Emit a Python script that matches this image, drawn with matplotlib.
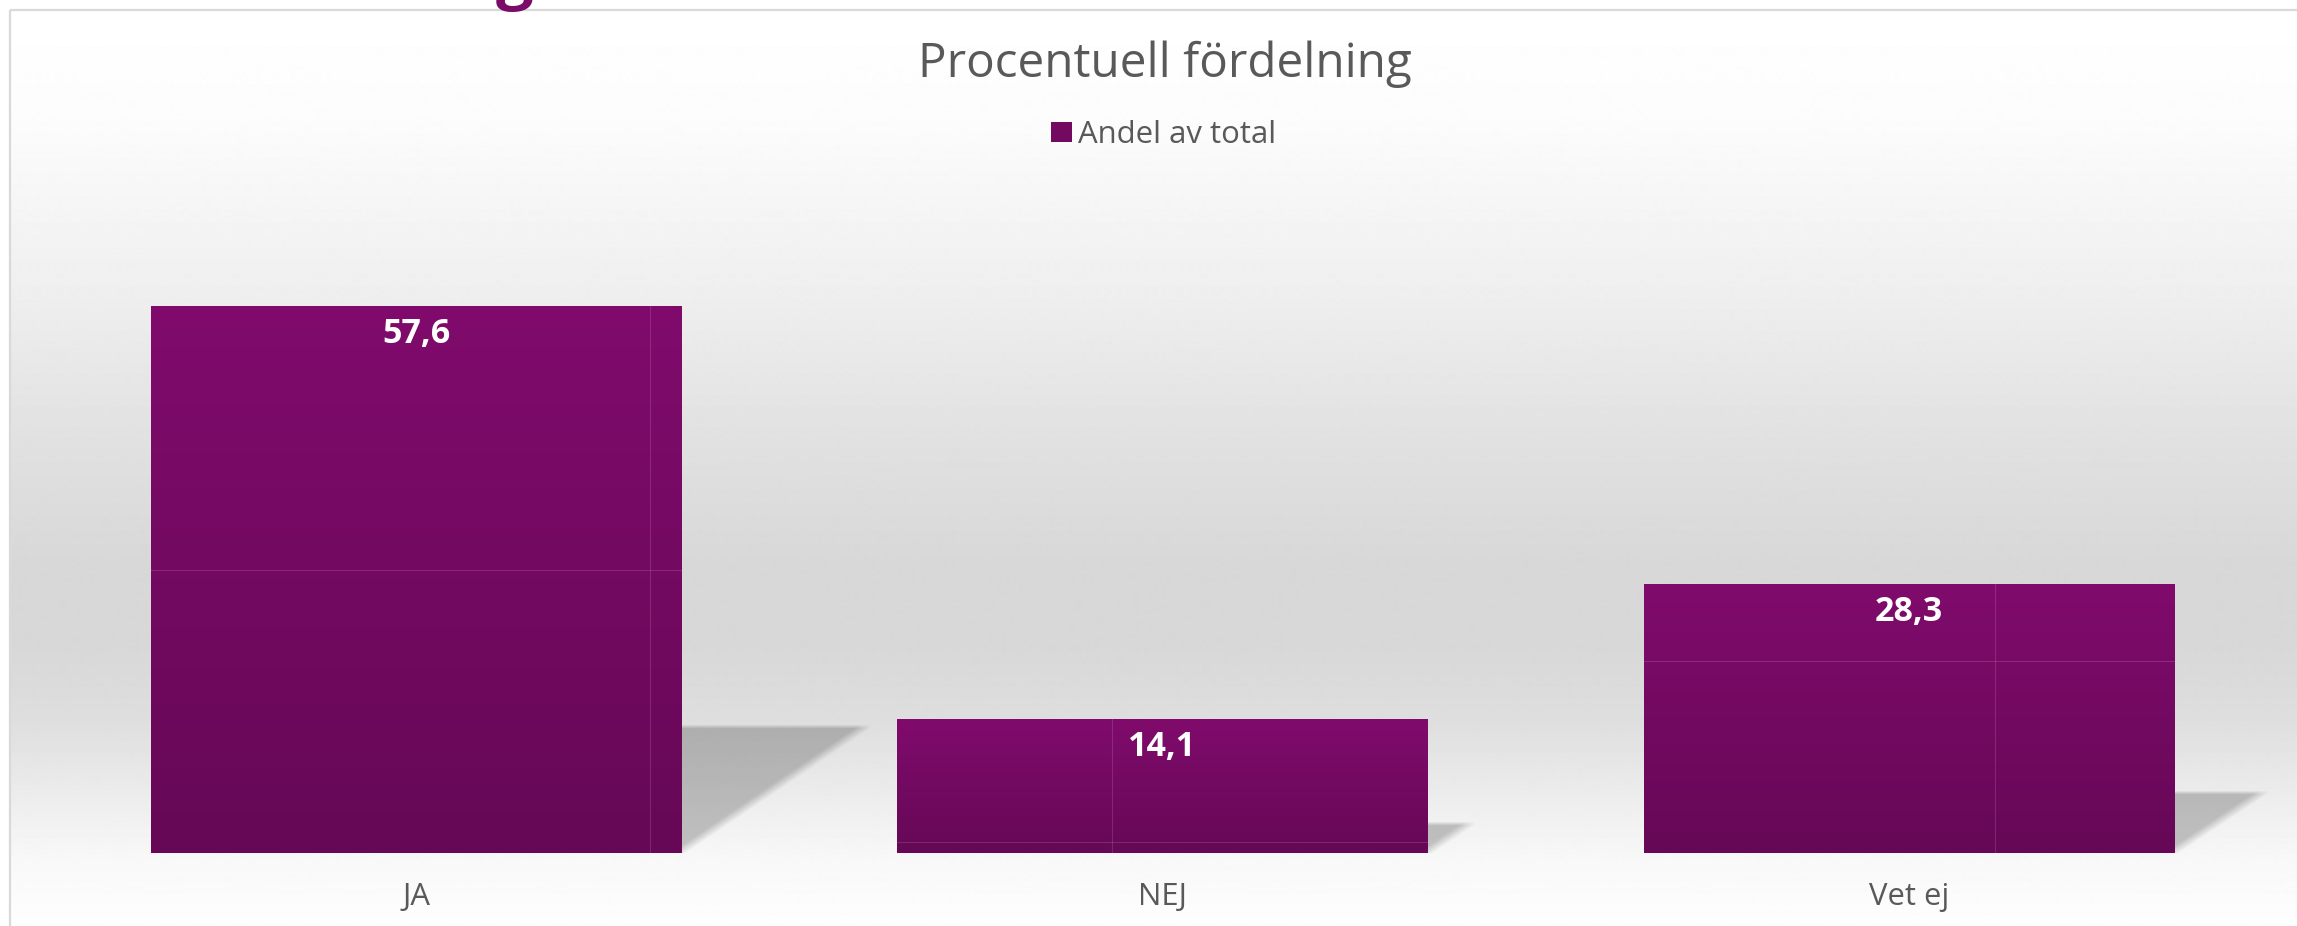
import numpy as np
import matplotlib
matplotlib.use("Agg")
import matplotlib.pyplot as plt
from matplotlib.patches import Rectangle

# ---- data -------------------------------------------------------------
categories = ["JA", "NEJ", "Vet ej"]
values = [57.6, 14.1, 28.3]
series_name = "Andel av total"
chart_title = "Procentuell fördelning"
value_labels = [f"{v:.1f}".replace(".", ",") for v in values]

# ---- styling ----------------------------------------------------------
plt.rcParams["font.family"] = ["Open Sans", "DejaVu Sans"]
TEXT_GREY = "#595959"
BAR_TOP = np.array([0x80, 0x0b, 0x6c]) / 255
BAR_BOTTOM = np.array([0x66, 0x08, 0x56]) / 255
BAR_MID = "#730a61"

W, H, DPI = 2297, 926, 100
fig = plt.figure(figsize=(W / DPI, H / DPI), dpi=DPI)
fig.patch.set_facecolor("white")

# ---- panel background (vertical grey gradient + frame) ----------------
bg = fig.add_axes([0, 0, 1, 1], zorder=0)
bg.set_xlim(0, W)
bg.set_ylim(H, 0)
bg.axis("off")
stops_y = [10, 120, 300, 450, 560, 650, 720, 800, 860, 926]
stops_v = [255, 252, 238, 224, 216, 216, 222, 237, 248, 254]
rows = np.arange(10, H + 1)
shade = np.interp(rows, stops_y, stops_v) / 255.0
bg.imshow(np.repeat(shade[:, None], 2, axis=1), cmap="gray", vmin=0, vmax=1,
          extent=[10, W, H, 10], aspect="auto", interpolation="bilinear")

# heading glyph peeking in from the page above the panel
bg.text(515, -4, "g", ha="center", va="baseline", fontsize=48,
        fontweight="bold", color="#7b0b68", clip_on=False)

bg.plot([10, W], [10, 10], color="#d9d9d9", lw=1.6, solid_capstyle="butt")
bg.plot([10, 10], [10, H], color="#d9d9d9", lw=1.6, solid_capstyle="butt")

# ---- plot area ----------------------------------------------------------
ax_left, ax_right, ax_bottom, ax_top = 42.75, 2282.25, 853, 283
ax = fig.add_axes([ax_left / W, (H - ax_bottom) / H,
                   (ax_right - ax_left) / W, (ax_bottom - ax_top) / H], zorder=2)
ax.patch.set_alpha(0)
YMAX = 60
x = np.arange(len(categories))
bar_width = 0.71
px_per_x = (ax_right - ax_left) / 3.0
px_per_y = (ax_bottom - ax_top) / YMAX

# cast shadows to the right of each bar
SHADOW_H = 0.234
SHADOW_ASPECT = 1.48
for xi, v in zip(x, values):
    hd = SHADOW_H * v
    h_px = hd * px_per_y
    w_px = SHADOW_ASPECT * h_px
    wd = w_px / px_per_x
    m, n = max(int(w_px), 2), max(int(h_px), 2)
    U = np.linspace(0, w_px, m)[None, :]
    T = np.linspace(h_px, 0, n)[:, None]
    dist = (T / h_px - U / w_px) / np.sqrt(1 / h_px ** 2 + 1 / w_px ** 2)
    a_diag = np.clip(dist / 9.0 + 0.35, 0, 1)
    a_top = np.clip((h_px - T) / 4.0, 0, 1)
    alpha = 0.22 * a_diag * a_top
    rgba = np.zeros((n, m, 4))
    rgba[..., 3] = alpha
    x0 = xi + bar_width / 2
    ax.imshow(rgba, extent=[x0, x0 + wd, 0, hd], aspect="auto",
              interpolation="bilinear", zorder=1)

# bars with a top-to-bottom gradient
bars = ax.bar(x, values, width=bar_width, color=BAR_MID, zorder=3)
for rect, v in zip(bars, values):
    t = np.linspace(0, 1, 256)[:, None]
    grad = BAR_TOP[None, :] * (1 - t) + BAR_BOTTOM[None, :] * t
    img = ax.imshow(grad[:, None, :], extent=[rect.get_x(), rect.get_x() + rect.get_width(), 0, v],
                    aspect="auto", interpolation="bilinear", zorder=4)
    img.set_clip_path(rect)

# faint tile seams across the bars (fraction of width, fraction of height)
seams = [(0.941, 0.517), (0.404, 0.082), (0.663, 0.714)]
for rect, v, (fx, fy) in zip(bars, values, seams):
    x0, w = rect.get_x(), rect.get_width()
    ax.plot([x0 + fx * w] * 2, [0, v], color="white", alpha=0.13, lw=0.8, zorder=5)
    ax.plot([x0, x0 + w], [fy * v] * 2, color="white", alpha=0.13, lw=0.8, zorder=5)

# value labels inside the bar tops
anns = ax.bar_label(bars, labels=value_labels, padding=-26.5, color="white",
                    fontsize=24.5, fontweight="bold", zorder=6)
for a in anns:
    a.set_va("baseline")

ax.set_xlim(-0.5, 2.5)
ax.set_ylim(0, YMAX)
ax.set_xticks(x, categories)
ax.set_yticks([])
ax.tick_params(axis="x", length=0, pad=21, labelsize=22.3, labelcolor=TEXT_GREY)
for s in ax.spines.values():
    s.set_visible(False)

# ---- title and legend --------------------------------------------------
fig.text(1165 / W, 1 - 77 / H, chart_title, ha="center", va="baseline",
         fontsize=34.3, color=TEXT_GREY, zorder=5)
fig.patches.append(Rectangle((1051 / W, 1 - 142 / H), 21 / W, 20 / H,
                             transform=fig.transFigure, facecolor=BAR_MID,
                             edgecolor="none", zorder=5))
fig.text(1078 / W, 1 - 143 / H, series_name, ha="left", va="baseline",
         fontsize=22.4, color=TEXT_GREY, zorder=5)

fig.savefig("out.png", dpi=DPI)
